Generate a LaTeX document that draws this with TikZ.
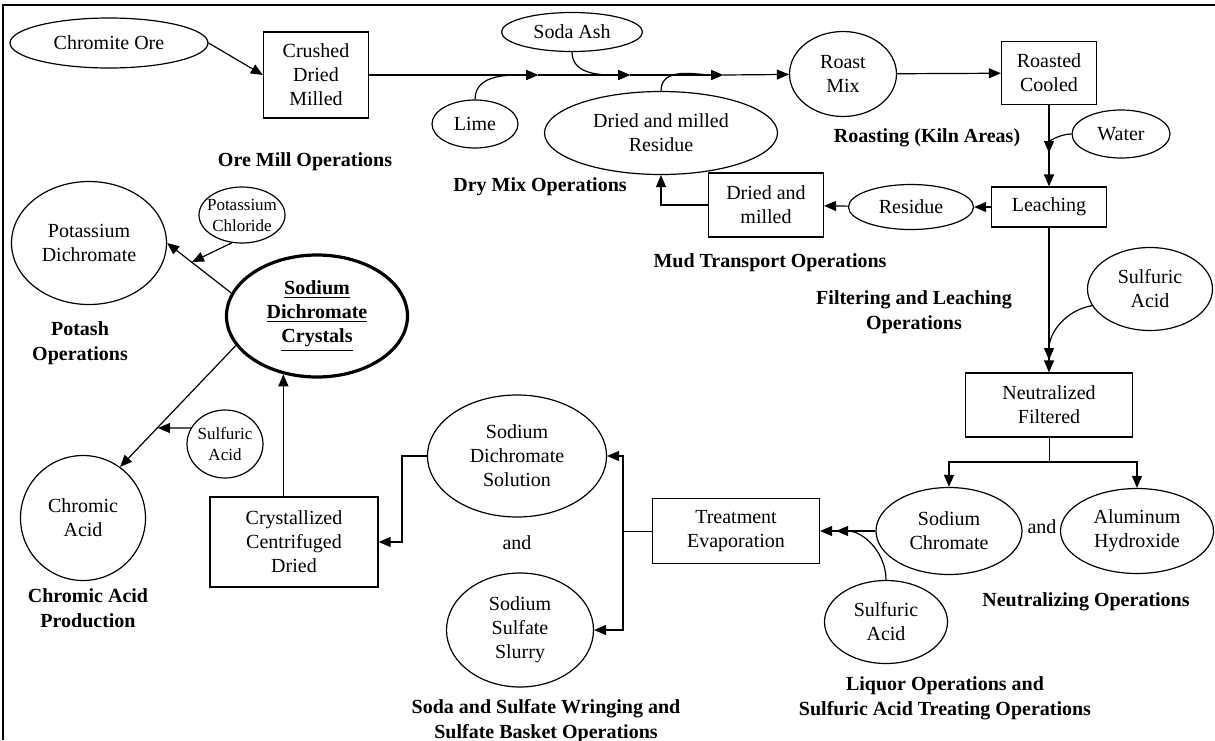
\documentclass[tikz,border=0pt]{standalone}
\usepackage{fontspec}
\setmainfont{Liberation Serif}
\usetikzlibrary{positioning,arrows.meta,shapes.geometric}

\begin{document}
\begin{tikzpicture}[
  x=0.5pt, y=0.5pt,
  every node/.style={font=\fontsize{10}{12}\selectfont, align=center, inner sep=0pt},
  stream/.style={draw, ellipse, line width=0.6pt},
  unit/.style={draw, rectangle, line width=0.6pt},
  small/.style={font=\fontsize{8.5}{10.5}\selectfont},
  oplabel/.style={font=\fontsize{10}{12.5}\selectfont\bfseries},
  flow/.style={-{Triangle[length=6pt,width=5pt]}, line width=0.6pt},
  >=Latex
]
\useasboundingbox (0,0) rectangle (1215,-740);
\draw[line width=1pt] (3,-740) -- (3,-5) -- (1215,-5);

% ore mill and dry mix
\node[stream, minimum width=99pt, minimum height=25pt] (ore) at (109,-43) {Chromite Ore};
\node[unit, minimum width=52.5pt, minimum height=43pt] (crushed) at (316,-75) {Crushed\\Dried\\Milled};
\node[stream, minimum width=70.5pt, minimum height=19.5pt] (soda) at (572,-32) {Soda Ash};
\node[stream, minimum width=43pt, minimum height=24pt] (lime) at (475,-124) {Lime};
\node[stream, minimum width=116.5pt, minimum height=41.5pt] (residue) at (661,-133) {Dried and milled\\Residue};

% roasting and leaching
\node[stream, minimum width=53.5pt, minimum height=42.5pt] (roast) at (843,-74) {Roast\\Mix};
\node[unit, minimum width=47.5pt, minimum height=31.5pt] (cooled) at (1049,-73) {Roasted\\Cooled};
\node[stream, minimum width=49pt, minimum height=24pt] (water) at (1121,-134) {Water};
\node[unit, minimum width=57.5pt, minimum height=20pt] (leach) at (1049,-207) {Leaching};
\node[stream, minimum width=62.5pt, minimum height=22.5pt] (resid) at (911,-207) {Residue};
\node[unit, minimum width=57.5pt, minimum height=32pt] (dmbox) at (766,-205) {Dried and\\milled};

% neutralizing and liquor
\node[stream, minimum width=62.5pt, minimum height=41.5pt] (sulfT) at (1150,-289) {Sulfuric\\Acid};
\node[unit, minimum width=83.5pt, minimum height=32pt] (neut) at (1049,-405) {Neutralized\\Filtered};
\node[stream, minimum width=73pt, minimum height=43.5pt] (chromate) at (949,-531) {Sodium\\Chromate};
\node (and1) at (1042,-527) {and};
\node[stream, minimum width=76.5pt, minimum height=42.5pt] (alum) at (1137,-531) {Aluminum\\Hydroxide};
\node[unit, minimum width=83.5pt, minimum height=32.5pt] (treat) at (736,-531) {Treatment\\Evaporation};
\node[stream, minimum width=61.5pt, minimum height=41.5pt] (sulfB) at (886,-622) {Sulfuric\\Acid};

% wringing and crystals
\node[stream, minimum width=89.5pt, minimum height=61pt] (sds) at (517,-456) {Sodium\\Dichromate\\Solution};
\node (and2) at (517,-543) {and};
\node[stream, minimum width=73.5pt, minimum height=57pt] (sss) at (520,-630) {Sodium\\Sulfate\\Slurry};
\node[unit, minimum width=84pt, minimum height=45pt] (cryst) at (294,-542) {Crystallized\\Centrifuged\\Dried};
\node[stream, line width=1.6pt, minimum width=90.5pt, minimum height=61pt] (crystals) at (317,-316)
  {\bfseries\underline{Sodium}\\\bfseries\underline{Dichromate}\\\bfseries\underline{Crystals}};

% potash and chromic acid
\node[stream, minimum width=77.5pt, minimum height=61.5pt] (potdi) at (89,-243) {Potassium\\Dichromate};
\node[stream, small, inner xsep=-3pt, minimum width=43pt, minimum height=28pt] (kcl) at (242,-215) {Potassium\\Chloride};
\node[stream, small, inner xsep=-2pt, minimum width=38pt, minimum height=34pt] (sulfL) at (225,-444) {Sulfuric\\Acid};
\node[stream, minimum width=62.5pt, minimum height=62.5pt] (chromic) at (83,-518) {Chromic\\Acid};

% operation labels
\node[oplabel] (lblore) at (305,-162) {Ore Mill Operations};
\node[oplabel] (lbldry) at (540,-187) {Dry Mix Operations};
\node[oplabel] (lblkiln) at (927,-138) {Roasting (Kiln Areas)};
\node[oplabel] (lblmud) at (770,-263) {Mud Transport Operations};
\node[oplabel] (lblfilt) at (914,-312) {Filtering and Leaching\\Operations};
\node[oplabel] (lblpotash) at (80,-343) {Potash\\Operations};
\node[oplabel] (lblchrom) at (88,-608) {Chromic Acid\\Production};
\node[oplabel] (lblneut) at (1086,-602) {Neutralizing Operations};
\node[oplabel] (lblliq) at (945,-698) {Liquor Operations and\\Sulfuric Acid Treating Operations};
\node[oplabel] (lblsoda) at (546,-721) {Soda and Sulfate Wringing and\\Sulfate Basket Operations};

% join points
\coordinate (m1) at (538,-75);
\coordinate (m2) at (630,-75);
\coordinate (m3) at (723,-75);
\coordinate (w1) at (1049,-153);
\coordinate (s1) at (1049,-360);
\coordinate (fork) at (1049,-462);
\coordinate (s2) at (836,-531);
\coordinate (split) at (623,-531);
\coordinate (k1) at (192,-262);
\coordinate (a1) at (158,-428);

\draw[flow] (ore.east) -- (crushed.west);
\draw[flow] (crushed) -- (m1);
\draw[flow] (m1) -- (m2);
\draw[flow] (m2) -- (m3);
\draw[flow] (m3) -- (roast);
\draw[flow] (lime.north) to[out=90, in=180] (m1);
\draw[flow] (soda.south) to[out=-90, in=180] (m2);
\draw[flow] (residue.north) to[out=90, in=180] (m3);
\draw[flow] (roast) -- (cooled);
\draw[flow] (cooled) -- (leach);
\draw[flow] (water.west) to[out=180, in=90] (w1);
\draw[flow] (leach) -- (resid);
\draw[flow] (resid) -- (dmbox);
\draw[flow] (dmbox.west) -| (residue.south);

\draw[flow] (leach) -- (neut);
\draw[flow] (sulfT.196) to[out=190, in=90] (s1);
\draw (neut) -- (fork);
\draw[flow] (fork) -| (chromate);
\draw[flow] (fork) -| (alum);
\draw[flow] (chromate) -- (treat);
\draw[flow] (sulfB.north) to[out=90, in=0] (s2);
\draw (treat) -- (split);
\draw[flow] (split) |- (sds);
\draw[flow] (split) |- (sss);
\draw[flow] (sds.west) -- ++(-25,0) |- (cryst);
\draw[flow] (crystals.240 |- cryst.north) -- (crystals.240);

\draw[flow] (crystals.165) -- (potdi.east);
\draw[flow] (kcl.-110) -- (k1);
\draw[flow] (crystals.200) -- (chromic.54);
\draw[flow] (sulfL.155) -- (a1);
\end{tikzpicture}
\end{document}
